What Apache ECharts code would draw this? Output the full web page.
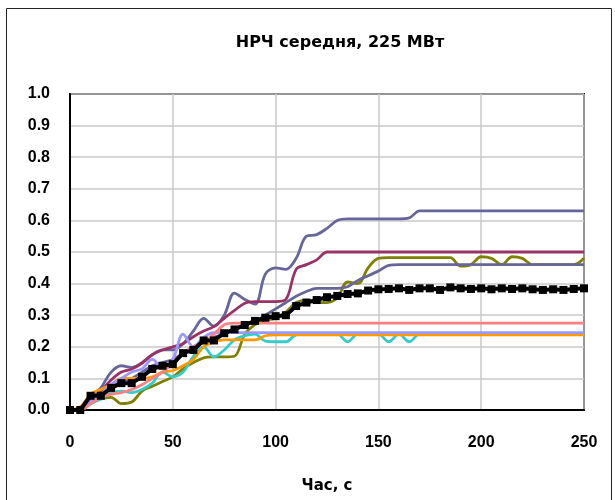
<!DOCTYPE html>
<html>
<head>
<meta charset="utf-8">
<script src="https://cdn.jsdelivr.net/npm/echarts@6/dist/echarts.min.js"></script>
<style>html,body{margin:0;padding:0;background:#fff}#c{width:615px;height:500px}</style>
</head>
<body>
<div id="c"></div>
<script>
const titleText = 'НРЧ середня, 225 МВт';
const xAxisName = 'Час, с';
const times = [0,5,10,15,20,25,30,35,40,45,50,55,60,65,70,75,80,85,90,95,100,105,110,115,120,125,130,135,140,145,150,155,160,165,170,175,180,185,190,195,200,205,210,215,220,225,230,235,240,245,250];

const slateA = [0,0.005,0.04,0.07,0.12,0.14,0.135,0.15,0.175,0.19,0.19,0.21,0.25,0.29,0.265,0.3,0.37,0.35,0.335,0.43,0.45,0.445,0.48,0.55,0.555,0.575,0.6,0.605,0.605,0.605,0.605,0.605,0.605,0.608,0.63,0.63,0.63,0.63,0.63,0.63,0.63,0.63,0.63,0.63,0.63,0.63,0.63,0.63,0.63,0.63,0.63];
const maroon = [0,0.005,0.03,0.06,0.095,0.12,0.13,0.148,0.175,0.19,0.2,0.21,0.232,0.25,0.264,0.29,0.315,0.338,0.343,0.343,0.343,0.35,0.445,0.46,0.475,0.5,0.5,0.5,0.5,0.5,0.5,0.5,0.5,0.5,0.5,0.5,0.5,0.5,0.5,0.5,0.5,0.5,0.5,0.5,0.5,0.5,0.5,0.5,0.5,0.5,0.5];
const olive = [0,0,0.02,0.035,0.04,0.02,0.025,0.06,0.075,0.09,0.105,0.13,0.15,0.165,0.168,0.168,0.17,0.24,0.27,0.285,0.29,0.31,0.34,0.348,0.34,0.34,0.355,0.405,0.4,0.45,0.48,0.482,0.482,0.482,0.482,0.482,0.482,0.482,0.455,0.46,0.485,0.48,0.46,0.485,0.48,0.46,0.46,0.46,0.46,0.46,0.48];
const slateB = [0,0,0.03,0.05,0.07,0.09,0.1,0.12,0.14,0.15,0.16,0.18,0.2,0.215,0.23,0.24,0.255,0.27,0.28,0.3,0.32,0.34,0.36,0.375,0.385,0.385,0.385,0.39,0.41,0.425,0.44,0.458,0.46,0.46,0.46,0.46,0.46,0.46,0.46,0.46,0.46,0.46,0.46,0.46,0.46,0.46,0.46,0.46,0.46,0.46,0.46];
const salmon = [0,0,0.02,0.04,0.05,0.055,0.065,0.08,0.1,0.12,0.15,0.18,0.2,0.215,0.24,0.27,0.275,0.275,0.275,0.275,0.275,0.275,0.275,0.275,0.275,0.275,0.275,0.275,0.275,0.275,0.275,0.275,0.275,0.275,0.275,0.275,0.275,0.275,0.275,0.275,0.275,0.275,0.275,0.275,0.275,0.275,0.275,0.275,0.275,0.275,0.275];
const periwinkle = [0,0,0.03,0.05,0.08,0.1,0.12,0.13,0.16,0.135,0.16,0.24,0.2,0.23,0.245,0.245,0.245,0.245,0.245,0.245,0.245,0.245,0.245,0.245,0.245,0.245,0.245,0.245,0.245,0.245,0.245,0.245,0.245,0.245,0.245,0.245,0.245,0.245,0.245,0.245,0.245,0.245,0.245,0.245,0.245,0.245,0.245,0.245,0.245,0.245,0.245];
const orange = [0,0.01,0.05,0.065,0.08,0.1,0.1,0.1,0.105,0.12,0.125,0.14,0.16,0.2,0.215,0.222,0.222,0.222,0.222,0.235,0.238,0.238,0.238,0.238,0.238,0.238,0.238,0.238,0.238,0.238,0.238,0.238,0.238,0.238,0.238,0.238,0.238,0.238,0.238,0.238,0.238,0.238,0.238,0.238,0.238,0.238,0.238,0.238,0.238,0.238,0.238];
const cyan = [0,0,0.02,0.035,0.055,0.06,0.055,0.065,0.085,0.12,0.105,0.12,0.17,0.2,0.168,0.19,0.222,0.235,0.24,0.218,0.216,0.216,0.238,0.24,0.24,0.24,0.24,0.216,0.24,0.24,0.24,0.216,0.24,0.216,0.24,0.24,0.24,0.24,0.24,0.24,0.24,0.24,0.24,0.24,0.24,0.24,0.24,0.24,0.24,0.24,0.24];
const mean = [0,0,0.045,0.045,0.07,0.085,0.085,0.105,0.13,0.14,0.145,0.18,0.19,0.22,0.22,0.243,0.255,0.269,0.282,0.292,0.297,0.3,0.329,0.34,0.348,0.357,0.361,0.367,0.369,0.378,0.382,0.383,0.385,0.38,0.385,0.385,0.38,0.388,0.385,0.383,0.385,0.382,0.385,0.383,0.385,0.382,0.38,0.382,0.38,0.383,0.385];

const pair = arr => times.map((t, i) => [t, arr[i]]);
const colored = [
  {name:'A', data:slateA, color:'#66669C'},
  {name:'B', data:maroon, color:'#993366'},
  {name:'C', data:olive, color:'#808000'},
  {name:'D', data:slateB, color:'#666699'},
  {name:'E', data:cyan, color:'#33CCCC'},
  {name:'F', data:orange, color:'#FF9900'},
  {name:'G', data:periwinkle, color:'#9999FF'},
  {name:'H', data:salmon, color:'#FF8080'}
];
const series = colored.map(s => ({
  name: s.name, type:'line', data: pair(s.data), smooth: 0.35, showSymbol:false, symbol:'none',
  lineStyle:{color:s.color, width:2.8}, itemStyle:{color:s.color}, z:2
}));
series.push({
  name:'mean', type:'line', data: pair(mean), smooth:false, symbol:'rect', symbolSize:8,
  lineStyle:{color:'#000', width:4}, itemStyle:{color:'#000'}, z:5
});

const chart = echarts.init(document.getElementById('c'), null, {renderer:'canvas'});
const font = 'Liberation Sans';
chart.setOption({
  animation:false,
  backgroundColor:'#fff',
  title:{text:titleText, left:335, top:30, textAlign:'center',
    textStyle:{fontFamily:'DejaVu Sans', fontWeight:'bold', fontSize:16, color:'#000'}},
  graphic:[{type:'rect', shape:{x:6.5,y:8.5,width:605,height:510}, style:{fill:'none', stroke:'#222', lineWidth:1}, silent:true, z:-1}],
  grid:{left:70, right:31, top:94, bottom:90, show:true, borderColor:'#000', borderWidth:2, backgroundColor:'transparent'},
  xAxis:{type:'value', min:0, max:250, interval:50,
    name:xAxisName, nameLocation:'middle', nameGap:69,
    nameTextStyle:{fontFamily:'DejaVu Sans', fontWeight:'bold', fontSize:15, color:'#000'},
    axisLine:{lineStyle:{color:'#000', width:2}}, axisTick:{show:false},
    axisLabel:{fontFamily:font, fontWeight:'bold', fontSize:16, color:'#000', margin:25},
    splitLine:{lineStyle:{color:'#C8C8C8', width:1.5}}},
  yAxis:{type:'value', min:0, max:1, interval:0.1,
    axisLine:{show:true, lineStyle:{color:'#000', width:2}}, axisTick:{show:false},
    axisLabel:{fontFamily:font, fontWeight:'bold', fontSize:16, color:'#000', margin:20, formatter: v => v.toFixed(1)},
    splitLine:{lineStyle:{color:'#C8C8C8', width:1.5}}},
  series: series
});
</script>
</body>
</html>
